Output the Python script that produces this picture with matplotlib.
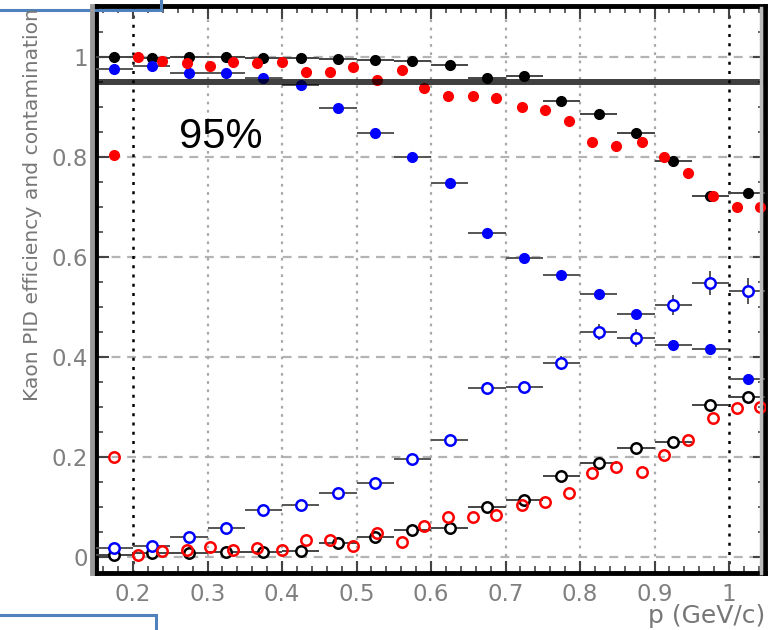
import numpy as np
import matplotlib
matplotlib.use("Agg")
import matplotlib.pyplot as plt
from matplotlib.patches import Rectangle
from matplotlib.lines import Line2D

# ============================
# DATA
# ============================
# black / blue series: 0.05 wide bins
p_coarse = [0.175, 0.225, 0.275, 0.325, 0.375, 0.425, 0.475, 0.525, 0.575,
            0.625, 0.675, 0.725, 0.775, 0.825, 0.875, 0.925, 0.975, 1.025]

black_eff = [1.0, 0.998, 1.0, 1.0, 0.998, 0.998, 0.997, 0.995, 0.993,
             0.985, 0.959, 0.962, 0.913, 0.886, 0.849, 0.792, 0.723, 0.728]
black_cont = [0.004, 0.008, 0.008, 0.01, 0.01, 0.012, 0.029, 0.04, 0.055,
              0.058, 0.1, 0.115, 0.163, 0.189, 0.219, 0.231, 0.305, 0.321]

blue_eff = [0.977, 0.983, 0.969, 0.969, 0.959, 0.945, 0.899, 0.849, 0.8,
            0.749, 0.648, 0.598, 0.564, 0.527, 0.487, 0.425, 0.417, 0.357]
blue_cont = [0.019, 0.022, 0.04, 0.059, 0.094, 0.105, 0.129, 0.149, 0.197,
             0.235, 0.339, 0.341, 0.389, 0.45, 0.438, 0.505, 0.549, 0.533]
blue_cont_err = [0.004, 0.004, 0.005, 0.006, 0.007, 0.007, 0.008, 0.008, 0.01,
                 0.01, 0.012, 0.012, 0.014, 0.016, 0.018, 0.02, 0.024, 0.026]

# red series: finer binning
p_fine = [0.175, 0.207, 0.239, 0.2725, 0.303, 0.334, 0.366, 0.400, 0.432,
          0.464, 0.495, 0.528, 0.561, 0.591, 0.623, 0.656, 0.687, 0.722,
          0.753, 0.785, 0.816, 0.848, 0.883, 0.913, 0.945, 0.979, 1.011, 1.042]
red_eff = [0.804, 1.0, 0.993, 0.988, 0.983, 0.991, 0.988, 0.991, 0.971,
           0.971, 0.981, 0.955, 0.975, 0.938, 0.922, 0.922, 0.919, 0.901,
           0.895, 0.873, 0.831, 0.823, 0.831, 0.801, 0.769, 0.723, 0.701, 0.700]
red_cont = [0.200, 0.005, 0.012, 0.015, 0.02, 0.015, 0.018, 0.015, 0.035,
            0.035, 0.022, 0.048, 0.03, 0.062, 0.08, 0.08, 0.085, 0.105,
            0.11, 0.128, 0.168, 0.181, 0.171, 0.205, 0.235, 0.278, 0.299, 0.301]

eff_cut = 0.95
x_ticks = [0.2, 0.3, 0.4, 0.5, 0.6, 0.7, 0.8, 0.9, 1.0]
x_ticklabels = ["0.2", "0.3", "0.4", "0.5", "0.6", "0.7", "0.8", "0.9", "1"]
y_ticks = [0, 0.2, 0.4, 0.6, 0.8, 1.0]
y_ticklabels = ["0", "0.2", "0.4", "0.6", "0.8", "1"]

W, H = 776, 630
fig = plt.figure(figsize=(W / 100, H / 100), dpi=100)
ax = fig.add_axes([96 / W, 1 - 573 / H, (765 - 96) / W, (573 - 6) / H])
ax.set_xlim(0.1503, 1.0483)
ax.set_ylim(-0.0314, 1.1026)

# grid: dashed horizontal, dotted vertical
for y in y_ticks:
    ax.axhline(y, color="#b4b4b4", lw=1.6, ls=(0, (4, 3)), zorder=1)
for x in x_ticks[1:-1]:
    ax.axvline(x, color="#a8a8a8", lw=1.6, ls=(0, (1.2, 2.5)), zorder=1)
for x in (x_ticks[0], x_ticks[-1]):
    ax.axvline(x, color="black", lw=1.8, ls=(0, (1.2, 2.5)), zorder=1)

hx = 0.025
common = dict(ls="none", elinewidth=1.4, capsize=0, zorder=3)
ax.errorbar(p_coarse, black_cont, xerr=hx, fmt="o", ms=7.5, mfc="white",
            mec="black", mew=1.8, ecolor="#444444", **common)
ax.errorbar(p_coarse, black_eff, xerr=hx, fmt="o", ms=7, color="black",
            ecolor="#444444", **common)
ax.errorbar(p_coarse, blue_cont, xerr=hx, yerr=blue_cont_err, fmt="o", ms=7.5,
            mfc="white", mec="#0000ff", mew=1.8, ecolor="#555555", **common)
ax.errorbar(p_coarse, blue_eff, xerr=hx, fmt="o", ms=7, color="#0000ff",
            ecolor="#555555", **common)
ax.plot(p_fine, red_cont, "o", ms=7.5, mfc="none", mec="#ff0000", mew=1.8,
        ls="none", zorder=4)
ax.plot(p_fine, red_eff, "o", ms=7, color="#ff0000", ls="none", zorder=4)

# 95% efficiency line
ax.axhline(eff_cut, color="black", alpha=0.75, lw=4.3, zorder=5)
ax.text(0.262, 0.80, "95%", fontsize=30, family="Liberation Sans",
        ha="left", va="bottom", zorder=6)

# axes styling
ax.set_xticks(x_ticks)
ax.set_xticklabels(x_ticklabels)
ax.set_yticks(y_ticks)
ax.set_yticklabels(y_ticklabels)
ax.set_xticks(np.arange(0.16, 1.05, 0.02), minor=True)
ax.set_yticks(np.arange(-0.0, 1.1, 0.05), minor=True)
ax.tick_params(which="both", direction="in", top=True, right=True,
               colors="#444444", labelcolor="#808080", labelsize=16.5)
ax.tick_params(which="major", length=9, width=1.5)
ax.tick_params(which="minor", length=5, width=1.2)
ax.tick_params(axis="x", pad=7)
ax.tick_params(axis="y", pad=6)
for s in ax.spines.values():
    s.set_linewidth(3.5)
    s.set_color("black")

# grey borders next to left / right frame
fig.add_artist(Line2D([91.5 / W, 91.5 / W], [1 - 573 / H, 1 - 6 / H],
                      color="#999999", lw=3.5))
fig.add_artist(Line2D([760.5 / W, 760.5 / W], [1 - 573 / H, 1 - 8 / H],
                      color="#bbbbbb", lw=2.5))

fig.text(33 / W, 1 - 401 / H, "Kaon PID efficiency and contamination",
         rotation=90, ha="center", va="bottom", fontsize=14.6, color="#777777")
fig.text(765 / W, 1 - 604 / H, "p (GeV/c)", ha="right", va="top",
         fontsize=18, color="#777777")

# blue annotation boxes cut by the figure edge
fig.add_artist(Rectangle((-10 / W, 1 - 10 / H), 171 / W, 30 / H,
                         fill=False, ec="#4f81bd", lw=2.2))
fig.add_artist(Rectangle((-10 / W, -20 / H), 166 / W, 35 / H,
                         fill=False, ec="#4f81bd", lw=2.2))

fig.savefig("out.png", dpi=100)
